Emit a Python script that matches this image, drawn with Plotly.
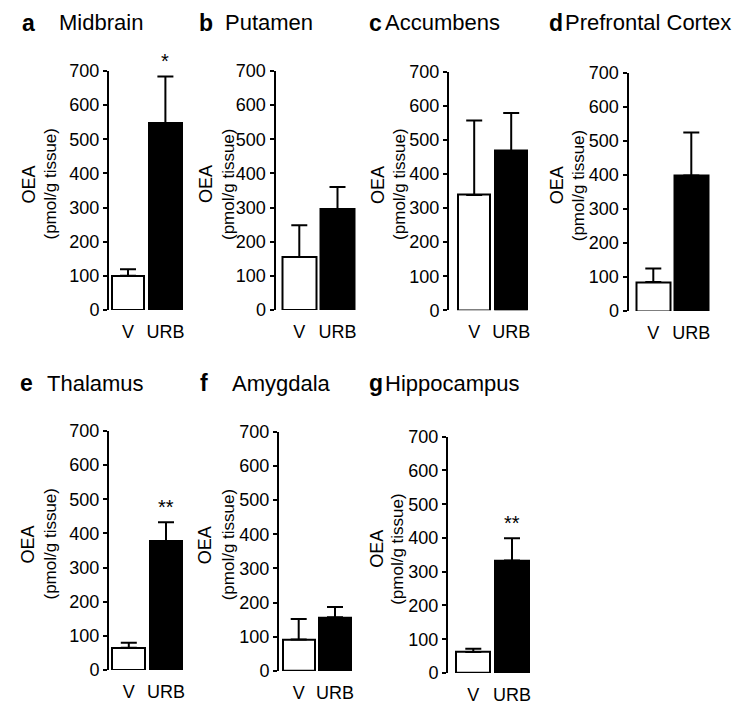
import plotly.graph_objects as go

# ---- data ----
letters = ["a", "b", "c", "d", "e", "f", "g"]
regions = ["Midbrain", "Putamen", "Accumbens", "Prefrontal Cortex",
           "Thalamus", "Amygdala", "Hippocampus"]
groups = ["V", "URB"]
vehicle_mean = [100, 155, 338, 85, 65, 92, 62]
vehicle_sem = [19, 93, 218, 40, 15, 60, 10]
urb_mean = [547, 296, 467, 398, 378, 157, 333]
urb_sem = [137, 64, 111, 126, 55, 30, 66]
significance = ["*", "", "", "", "**", "", "**"]
y_ticks = [0, 100, 200, 300, 400, 500, 600, 700]

# ---- layout geometry (pixels in the 750x711 page) ----
W, H = 750, 711
# axis x, first bar centre, spacing between bar centres, y of 700, y of 0
geom = [
    (109, 128.0, 37.4, 71.0, 310.0),
    (275.5, 299.3, 38.2, 71.0, 310.0),
    (449, 474.2, 37.0, 71.5, 310.3),
    (628.5, 653.3, 38.0, 72.5, 311.0),
    (109, 128.8, 37.2, 431.0, 670.0),
    (279, 298.7, 36.3, 431.7, 671.0),
    (448, 473.3, 38.7, 436.7, 673.0),
]
# title letter left x, region name left x, title centre y
title_pos = [
    (20, 57, 23), (197, 223, 23), (367, 383, 23), (547, 563, 23),
    (18, 45, 383), (198, 230, 383), (367, 383, 383),
]
# offsets of the two y-title lines from the axis
ytitle_off = [(-81, -59), (-70, -47), (-71, -49), (-72, -50),
              (-82, -59), (-74, -51), (-71, -50)]

FONT = "Arial, 'Liberation Sans', Helvetica, sans-serif"

fig = go.Figure()
layout = dict(
    width=W, height=H, margin=dict(l=0, r=0, t=0, b=0, autoexpand=False),
    paper_bgcolor="white", plot_bgcolor="white", showlegend=False,
    font=dict(family=FONT, color="black"),
    bargap=0,
)
annotations = []

for i in range(7):
    ax_x, c0, sp, y700, y0 = geom[i]
    xa = "x" if i == 0 else f"x{i+1}"
    ya = "y" if i == 0 else f"y{i+1}"
    xkey = "xaxis" if i == 0 else f"xaxis{i+1}"
    ykey = "yaxis" if i == 0 else f"yaxis{i+1}"

    x_lo = -(c0 - ax_x) / sp
    x_hi = 1.5
    right_px = c0 + x_hi * sp
    layout[xkey] = dict(
        domain=[ax_x / W, right_px / W], anchor=ya, automargin=False,
        range=[x_lo, x_hi], tickmode="array", tickvals=[0, 1],
        ticktext=groups, showline=False, showgrid=False, zeroline=False,
        ticks="outside", ticklen=5, tickcolor="rgba(0,0,0,0)",
        tickfont=dict(size=18, family=FONT, color="black"),
        fixedrange=True,
    )
    layout[ykey] = dict(
        domain=[1 - y0 / H, 1 - y700 / H], anchor=xa, automargin=False,
        range=[0, 700], tickmode="array", tickvals=y_ticks,
        showline=True, linewidth=2, linecolor="black",
        ticks="outside", ticklen=4, tickwidth=1.5, tickcolor="black",
        showgrid=False, zeroline=False,
        tickfont=dict(size=18, family=FONT, color="black"),
        fixedrange=True,
    )

    fig.add_trace(go.Bar(
        x=[0, 1], y=[vehicle_mean[i], urb_mean[i]], width=0.88,
        marker=dict(color=["white", "black"], line=dict(color="black", width=2)),
        error_y=dict(type="data", symmetric=False,
                     array=[vehicle_sem[i], urb_sem[i]], arrayminus=[0, 0],
                     color="black", thickness=2, width=8),
        xaxis=xa, yaxis=ya, hoverinfo="skip",
    ))

    if significance[i]:
        annotations.append(dict(
            x=1, y=urb_mean[i] + urb_sem[i], xref=xa, yref=ya,
            text=significance[i], showarrow=False, yanchor="bottom",
            yshift=2, font=dict(size=20, family=FONT, color="black"),
        ))

    lx, nx, ty = title_pos[i]
    annotations.append(dict(
        x=lx / W, y=1 - ty / H, xref="paper", yref="paper",
        text=f"<b>{letters[i]}</b>", showarrow=False,
        xanchor="left", yanchor="middle",
        font=dict(size=23, family=FONT, color="black"),
    ))
    annotations.append(dict(
        x=nx / W, y=1 - ty / H, xref="paper", yref="paper",
        text=regions[i], showarrow=False,
        xanchor="left", yanchor="middle",
        font=dict(size=22, family=FONT, color="black"),
    ))

    yc = (y700 + y0) / 2 - 6
    o1, o2 = ytitle_off[i]
    annotations.append(dict(
        x=(ax_x + o1) / W, y=1 - yc / H, xref="paper", yref="paper",
        text="OEA", showarrow=False, textangle=-90,
        xanchor="center", yanchor="middle",
        font=dict(size=18, family=FONT, color="black"),
    ))
    annotations.append(dict(
        x=(ax_x + o2) / W, y=1 - yc / H, xref="paper", yref="paper",
        text="(pmol/g tissue)", showarrow=False, textangle=-90,
        xanchor="center", yanchor="middle",
        font=dict(size=17, family=FONT, color="black"),
    ))

layout["annotations"] = annotations
fig.update_layout(**layout)
fig.write_html(
    "out.html",
    config={"displayModeBar": False},
    post_script="document.body.style.margin='0';document.body.style.overflow='hidden';",
)
